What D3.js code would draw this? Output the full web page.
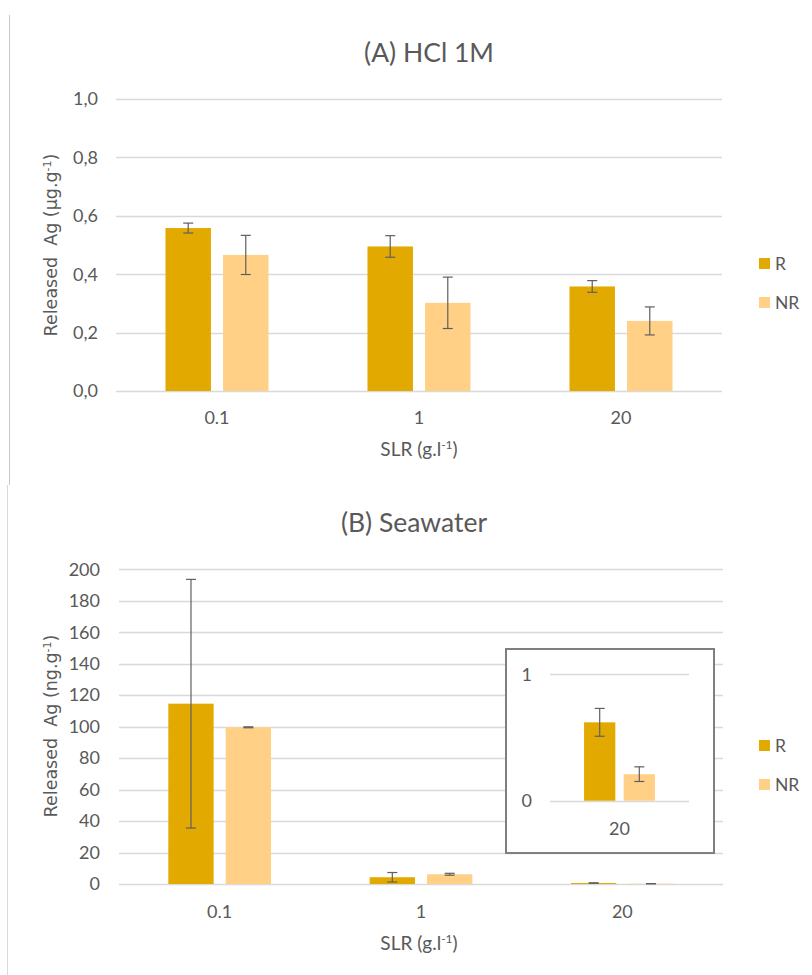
<!DOCTYPE html>
<html lang="en">
<head>
  <meta charset="UTF-8">
  <title>Released Ag</title>
  <script src="https://d3js.org/d3.v7.min.js"></script>
  <style>
    body { margin: 0; background: #fff; }
    svg text { font-family: Lato, "Open Sans", sans-serif; fill: #595959; }
    .ytitle { font-family: "DejaVu Sans", Verdana, sans-serif !important; white-space: pre; }
  </style>
</head>
<body>
  <div id="chart"></div>
  <script>
    // categories and series
    const categories = ["0.1", "1", "20"];
    const series = ["R", "NR"];
    const colors = {R: "#e2aa00", NR: "#ffd086"};

    // (A) HCl 1M, µg/g
    const hclR = [0.558, 0.495, 0.358];
    const hclRErr = [0.017, 0.037, 0.020];
    const hclNR = [0.466, 0.302, 0.240];
    const hclNRErr = [0.067, 0.088, 0.048];
    const hclTicks = [0, 0.2, 0.4, 0.6, 0.8, 1.0];

    // (B) Seawater, ng/g
    const seaR = [114.6, 4.3, 0.62];
    const seaRErr = [79, 3.0, 0.11];
    const seaNR = [99.6, 6.2, 0.21];
    const seaNRErr = [0.3, 0.6, 0.058];
    const seaTicks = [0, 20, 40, 60, 80, 100, 120, 140, 160, 180, 200];

    // inset: only the 20 g/l group
    const insetCategories = ["20"];
    const insetTicks = [0, 1];

    const W = 812, H = 975;
    const svg = d3.select("#chart").append("svg")
      .attr("width", W).attr("height", H);

    // faint left borders of the two pasted charts
    svg.append("line").attr("x1", 9.5).attr("x2", 9.5).attr("y1", 15).attr("y2", 485)
      .attr("stroke", "#c8c8c8");
    svg.append("line").attr("x1", 7.5).attr("x2", 7.5).attr("y1", 485).attr("y2", 975)
      .attr("stroke", "#dadada");

    function rows(r, rErr, nr, nrErr, cats) {
      return cats.map((c, i) => ({
        cat: c,
        vals: [
          {s: "R", v: r[i], e: rErr[i]},
          {s: "NR", v: nr[i], e: nrErr[i]}
        ]
      }));
    }

    function drawBars(g, data, x, y) {
      const x1 = d3.scaleBand().domain(series).range([0, x.bandwidth()]).paddingInner(0.21);
      const grp = g.selectAll(".grp").data(data).enter().append("g")
        .attr("transform", d => `translate(${x(d.cat)},0)`);
      grp.selectAll("rect").data(d => d.vals).enter().append("rect")
        .attr("x", d => x1(d.s))
        .attr("y", d => y(d.v))
        .attr("width", x1.bandwidth())
        .attr("height", d => y(0) - y(d.v))
        .attr("fill", d => colors[d.s]);
      // error bars
      const eb = grp.selectAll(".err").data(d => d.vals).enter().append("g")
        .attr("stroke", "#5f5f5f").attr("stroke-width", 1.2);
      const cx = d => x1(d.s) + x1.bandwidth() / 2;
      eb.append("line")
        .attr("x1", cx).attr("x2", cx)
        .attr("y1", d => y(d.v + d.e)).attr("y2", d => y(d.v - d.e));
      eb.append("line")
        .attr("x1", d => cx(d) - 5).attr("x2", d => cx(d) + 5)
        .attr("y1", d => y(d.v + d.e)).attr("y2", d => y(d.v + d.e));
      eb.append("line")
        .attr("x1", d => cx(d) - 5).attr("x2", d => cx(d) + 5)
        .attr("y1", d => y(d.v - d.e)).attr("y2", d => y(d.v - d.e));
    }

    function drawGrid(g, ticks, x, y, fmt, labelX, fontSize) {
      g.selectAll(".gl").data(ticks).enter().append("line")
        .attr("x1", x.range()[0]).attr("x2", x.range()[1])
        .attr("y1", d => Math.round(y(d)) + 0.5).attr("y2", d => Math.round(y(d)) + 0.5)
        .attr("stroke", "#d9d9d9").attr("stroke-width", 1.3);
      g.selectAll(".yl").data(ticks).enter().append("text")
        .attr("x", labelX).attr("y", d => y(d))
        .attr("dy", "0.35em")
        .attr("text-anchor", "end")
        .style("font-size", fontSize + "px")
        .text(fmt);
    }

    function yTitle(cx, cy, unit) {
      const t = svg.append("text").attr("class", "ytitle")
        .attr("transform", `translate(${cx},${cy}) rotate(-90)`)
        .attr("text-anchor", "middle")
        .style("font-size", "17.5px");
      t.append("tspan").text("Released  Ag (" + unit);
      t.append("tspan").attr("baseline-shift", "super").style("font-size", "11px").text("-1");
      t.append("tspan").text(")");
    }

    function xTitle(cx, by) {
      const t = svg.append("text")
        .attr("x", cx).attr("y", by)
        .attr("text-anchor", "middle")
        .style("font-size", "19px");
      t.append("tspan").text("SLR (g.l");
      t.append("tspan").attr("baseline-shift", "super").style("font-size", "12px").text("-1");
      t.append("tspan").text(")");
    }

    function legend(x, yR, yNR) {
      [["R", yR], ["NR", yNR]].forEach(([s, yy]) => {
        svg.append("rect").attr("x", x).attr("y", yy).attr("width", 11).attr("height", 11)
          .attr("fill", colors[s]);
        svg.append("text").attr("x", x + 16).attr("y", yy + 12)
          .style("font-size", "17.5px").text(s);
      });
    }

    // ---------- Panel A ----------
    const gA = svg.append("g");
    const xA = d3.scaleBand().domain(categories).range([116, 722]).paddingInner(0.49).paddingOuter(0.245);
    const yA = d3.scaleLinear().domain([0, 1]).range([391, 99]);
    svg.append("text").attr("x", 429).attr("y", 62).attr("text-anchor", "middle")
      .style("font-size", "26.5px").text("(A) HCl 1M");
    drawGrid(gA, hclTicks, xA, yA, d => d3.format(".1f")(d).replace(".", ","), 98, 18);
    drawBars(gA, rows(hclR, hclRErr, hclNR, hclNRErr, categories), xA, yA);
    gA.selectAll(".xl").data(categories).enter().append("text")
      .attr("x", d => xA(d) + xA.bandwidth() / 2).attr("y", 424)
      .attr("text-anchor", "middle").style("font-size", "18px").text(d => d);
    xTitle(419, 456);
    yTitle(57, 245, "µg.g");
    legend(759, 258, 297);

    // ---------- Panel B ----------
    const gB = svg.append("g");
    const xB = d3.scaleBand().domain(categories).range([119, 723]).paddingInner(0.49).paddingOuter(0.245);
    const yB = d3.scaleLinear().domain([0, 200]).range([884, 569.3]);
    svg.append("text").attr("x", 414).attr("y", 532).attr("text-anchor", "middle")
      .style("font-size", "26.5px").text("(B) Seawater");
    drawGrid(gB, seaTicks, xB, yB, d => d, 100, 18);
    drawBars(gB, rows(seaR, seaRErr, seaNR, seaNRErr, categories), xB, yB);
    gB.selectAll(".xl").data(categories).enter().append("text")
      .attr("x", d => xB(d) + xB.bandwidth() / 2).attr("y", 918)
      .attr("text-anchor", "middle").style("font-size", "18px").text(d => d);
    xTitle(419, 950);
    yTitle(57, 726, "ng.g");
    legend(759, 740, 779);

    // ---------- Inset (20 g/l zoom) ----------
    const gI = svg.append("g");
    gI.append("rect").attr("x", 506).attr("y", 649).attr("width", 208).attr("height", 204)
      .attr("fill", "#fff").attr("stroke", "#7f7f7f").attr("stroke-width", 2);
    const xI = d3.scaleBand().domain(insetCategories).range([550, 689]).paddingInner(0.49).paddingOuter(0.237);
    const yI = d3.scaleLinear().domain([0, 1]).range([800.7, 674.3]);
    drawGrid(gI, insetTicks, xI, yI, d => d, 532, 18);
    drawBars(gI, rows([seaR[2]], [seaRErr[2]], [seaNR[2]], [seaNRErr[2]], insetCategories), xI, yI);
    gI.selectAll(".xl").data(insetCategories).enter().append("text")
      .attr("x", d => xI(d) + xI.bandwidth() / 2).attr("y", 835)
      .attr("text-anchor", "middle").style("font-size", "18px").text(d => d);
  </script>
</body>
</html>
